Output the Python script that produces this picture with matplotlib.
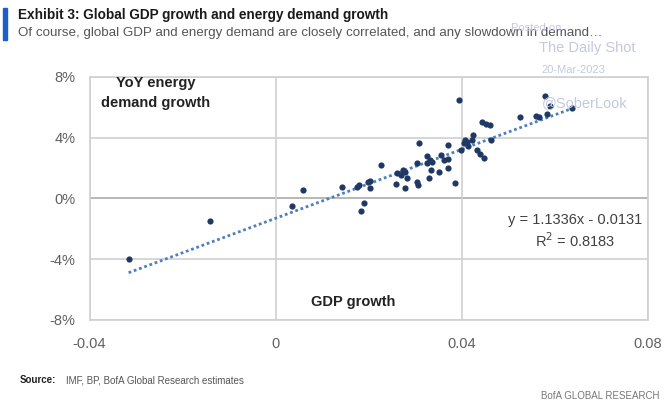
import matplotlib
matplotlib.use("Agg")
import matplotlib.pyplot as plt
import numpy as np
from matplotlib.patches import Rectangle

# GDP growth (x) and YoY energy demand growth (y), as fractions
gdp_growth = [-0.0316, -0.0140, 0.0035, 0.0059, 0.0142, 0.0175, 0.0179, 0.0190, 0.0184,
              0.0198, 0.0203, 0.0202, 0.0226, 0.0258, 0.0260, 0.0273, 0.0278, 0.0270,
              0.0283, 0.0277, 0.0304, 0.0305, 0.0304, 0.0308, 0.0325, 0.0331, 0.0336,
              0.0326, 0.0334, 0.0329, 0.0352, 0.0356, 0.0361, 0.0370, 0.0371, 0.0370,
              0.0386, 0.0395, 0.0399, 0.0408, 0.0411, 0.0404, 0.0413, 0.0424, 0.0422,
              0.0433, 0.0440, 0.0447, 0.0444, 0.0452, 0.0460, 0.0462, 0.0526, 0.0560,
              0.0567, 0.0584, 0.0578, 0.0590, 0.0637]
energy_growth = [-0.0397, -0.0148, -0.0053, 0.0055, 0.0075, 0.0077, 0.0088, -0.0033, -0.0085,
                 0.0106, 0.0116, 0.0066, 0.0222, 0.0095, 0.0167, 0.0189, 0.0172, 0.0156,
                 0.0132, 0.0066, 0.0110, 0.0088, 0.0233, 0.0363, 0.0278, 0.0255, 0.0238,
                 0.0233, 0.0189, 0.0132, 0.0176, 0.0288, 0.0255, 0.0198, 0.0354, 0.0260,
                 0.0104, 0.0645, 0.0321, 0.0387, 0.0370, 0.0364, 0.0344, 0.0414, 0.0385,
                 0.0317, 0.0290, 0.0264, 0.0505, 0.0491, 0.0480, 0.0382, 0.0538, 0.0544,
                 0.0535, 0.0555, 0.0676, 0.0610, 0.0593]
trend_slope = 1.1336
trend_intercept = -0.0131
r_squared = 0.8183

x_ticks = [-0.04, 0, 0.04, 0.08]
x_tick_labels = ["-0.04", "0", "0.04", "0.08"]
y_ticks = [-0.08, -0.04, 0, 0.04, 0.08]
y_tick_labels = ["-8%", "-4%", "0%", "4%", "8%"]

plt.rcParams['font.family'] = ['Liberation Sans', 'DejaVu Sans']

fig = plt.figure(figsize=(6.7, 4.08), dpi=100)
ax = fig.add_axes([0.1336, 0.2157, 0.8334, 0.5963])

grid_c = "#d0d0d0"
ax.set_xlim(-0.04, 0.08)
ax.set_ylim(-0.08, 0.08)
ax.set_xticks(x_ticks)
ax.set_xticklabels(x_tick_labels)
ax.set_yticks(y_ticks)
ax.set_yticklabels(y_tick_labels)
ax.grid(True, color=grid_c, linewidth=1.2, zorder=0)
for s in ax.spines.values():
    s.set_color(grid_c)
    s.set_linewidth(1.2)
ax.axhline(0, color="#404040", linewidth=1.4, zorder=1)
ax.tick_params(axis="y", length=0, labelsize=10.5, labelcolor="#606060", pad=10)
ax.tick_params(axis="x", length=0, labelsize=10.5, labelcolor="#606060", pad=12)

# trend line
xt = np.array([min(gdp_growth), max(gdp_growth)])
ax.plot(xt, trend_slope * xt + trend_intercept, linestyle=(0, (1, 1)), color="#4f7fbf",
        linewidth=2.0, zorder=2)

ax.scatter(gdp_growth, energy_growth, s=20, color="#1f3864", zorder=3, linewidths=0)

ax.text(0.118, 0.974, "YoY energy", transform=ax.transAxes, ha="center", va="center",
        fontsize=10.5, fontweight="bold", color="#222222")
ax.text(0.118, 0.892, "demand growth", transform=ax.transAxes, ha="center", va="center",
        fontsize=10.5, fontweight="bold", color="#222222")
ax.text(0.472, 0.074, "GDP growth", transform=ax.transAxes, ha="center", va="center",
        fontsize=10.5, fontweight="bold", color="#222222")
ax.text(0.87, 0.363, "y = %.4fx - %.4f\nR$^2$ = %.4f" % (trend_slope, -trend_intercept, r_squared),
        transform=ax.transAxes, ha="center", va="center", fontsize=10.5, color="#404040",
        linespacing=1.25)

# header
fig.patches.append(Rectangle((0.004, 0.902), 0.007, 0.078, transform=fig.transFigure,
                             color="#1a5fc8", zorder=5))
fig.text(0.027, 0.963, "Exhibit 3: Global GDP growth and energy demand growth",
         fontsize=9.8, fontweight="bold", color="#1a1a1a", va="center")
fig.text(0.027, 0.919, "Of course, global GDP and energy demand are closely correlated, and any slowdown in demand…",
         fontsize=9.6, color="#555555", va="center")

# watermark
wm = "#c3c9e0"
fig.text(0.80, 0.931, "Posted on", fontsize=8, color=wm, ha="center", va="center")
fig.text(0.876, 0.882, "The Daily Shot", fontsize=10.5, color=wm, ha="center", va="center")
fig.text(0.856, 0.828, "20-Mar-2023", fontsize=8, color=wm, ha="center", va="center")
fig.text(0.872, 0.748, "@SoberLook", fontsize=10.5, color=wm, ha="center", va="center")

# footer
fig.text(0.03, 0.068, "Source:", fontsize=7, fontweight="bold", color="#222222", va="center")
fig.text(0.098, 0.068, "IMF, BP, BofA Global Research estimates", fontsize=7, color="#555555", va="center")
fig.text(0.985, 0.03, "BofA GLOBAL RESEARCH", fontsize=7, color="#777777", va="center", ha="right")

fig.savefig("out.png", dpi=100)
